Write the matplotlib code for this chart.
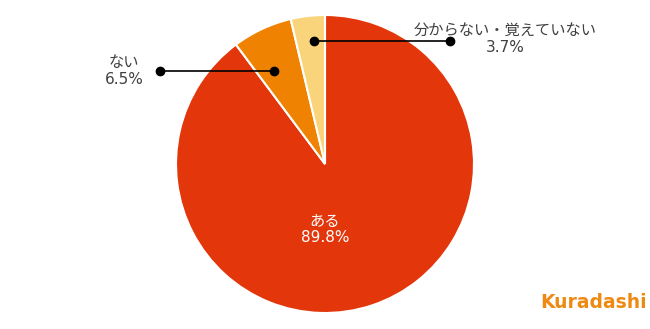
import numpy as np
import matplotlib.pyplot as plt

plt.rcParams['font.family'] = ['DejaVu Sans', 'Noto Sans CJK JP']

# Data
labels = ['ある', 'ない', '分からない・覚えていない']
values = [89.8, 6.5, 3.7]
colors = ['#E3370B', '#EF8200', '#F9D47A']

W, H = 650, 329
fig = plt.figure(figsize=(W / 100, H / 100), dpi=100)

# pie axes: centre (325, 164), radius ~148 px
cx, cy, r = 325, 164, 149
ax = fig.add_axes([(cx - r) / W, (H - cy - r) / H, 2 * r / W, 2 * r / H])
wedges, _ = ax.pie(values, colors=colors, startangle=90, counterclock=False,
                   wedgeprops=dict(edgecolor='white', linewidth=1.5))
ax.set_xlim(-1, 1)
ax.set_ylim(-1, 1)
ax.set_aspect('equal')
ax.axis('off')

# label inside the big slice
ax.text(0, -0.44, f'{labels[0]}\n{values[0]}%', ha='center', va='center',
        color='white', fontsize=11, linespacing=1.15)

# callout lines for the two small slices
overlay = fig.add_axes([0, 0, 1, 1])
overlay.set_xlim(0, W)
overlay.set_ylim(H, 0)
overlay.axis('off')


def anchor(w, t, frac):
    # point at fraction t across the wedge angle, frac of the radius out
    ang = np.deg2rad(w.theta1 + t * (w.theta2 - w.theta1))
    return cx + frac * r * np.cos(ang), cy - frac * r * np.sin(ang)


# ない
x0, y0 = anchor(wedges[1], 0.65, 0.71)
overlay.plot([x0, 160], [y0, y0], color='black', lw=1.2, marker='o', ms=6)
overlay.text(124, y0, f'{labels[1]}\n{values[1]}%', ha='center', va='center',
             fontsize=11, color='#404040', linespacing=1.15)

# 分からない・覚えていない
x1, y1 = anchor(wedges[2], 0.38, 0.83)
overlay.plot([x1, 450], [y1, y1], color='black', lw=1.2, marker='o', ms=6)
overlay.text(505, y1 - 2, f'{labels[2]}\n{values[2]}%', ha='center', va='center',
             fontsize=11, color='#404040', linespacing=1.15)

# logo
overlay.text(594, 303, 'Kuradashi', ha='center', va='center', fontsize=13.5,
             fontweight='bold', color='#EE8A12')

fig.savefig('out.png', dpi=100)
